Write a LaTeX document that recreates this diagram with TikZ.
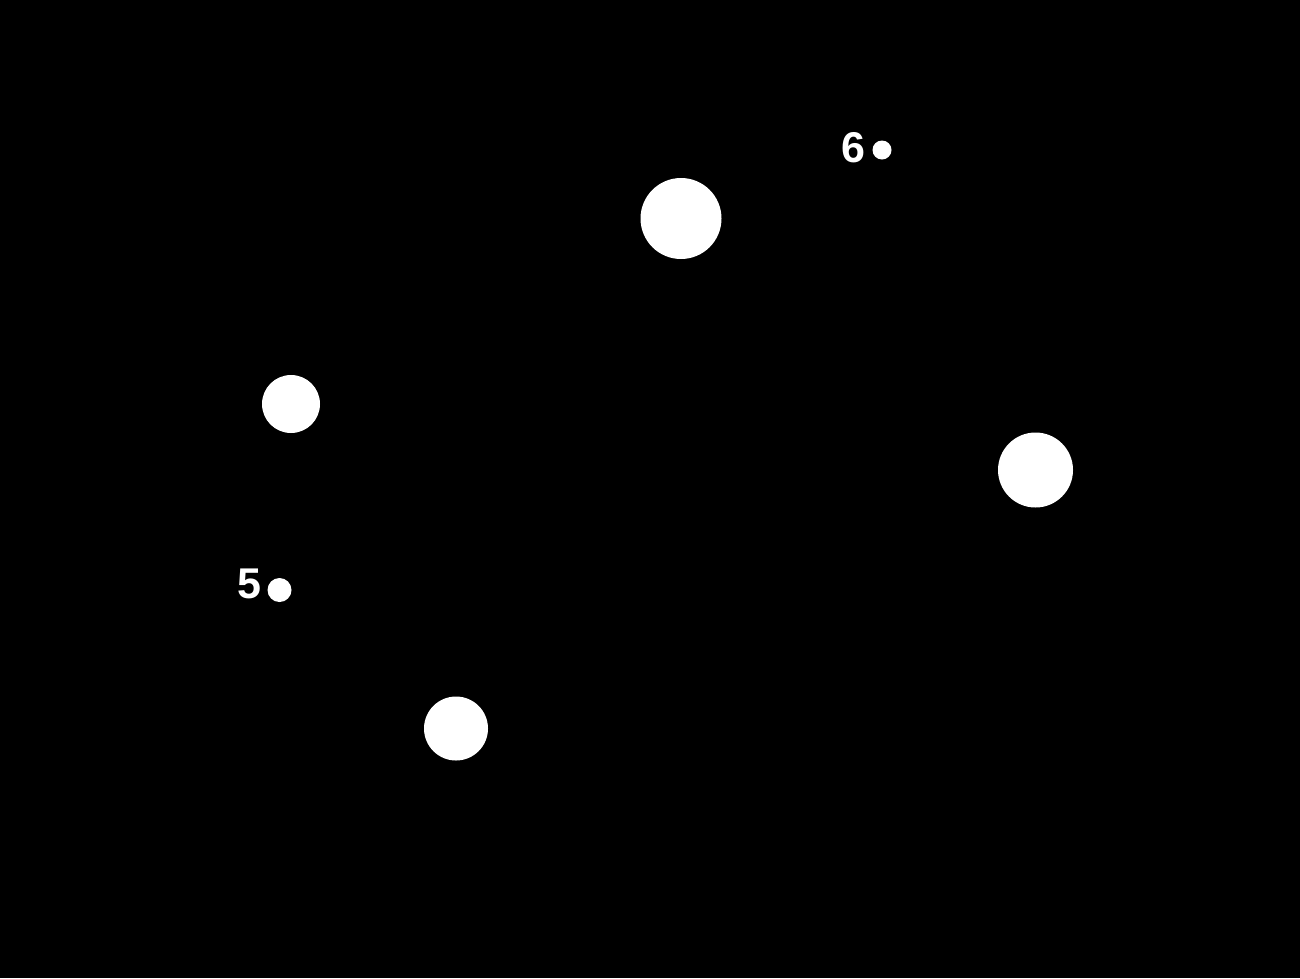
\documentclass[tikz,border=0pt]{standalone}
\usepackage{fontspec}
\setmainfont{Liberation Sans}
\usepackage{tikz}

\begin{document}
\begin{tikzpicture}[x=1pt,y=-1pt,inner sep=0pt,
	body/.style={circle,fill=white,draw=none},
	tag/.style={text=white,font=\fontsize{43}{43}\selectfont\bfseries}]

\fill[black] (0,0) rectangle (1300,978);
\useasboundingbox (0,0) rectangle (1300,978);

\node[body,minimum size=81pt] (p1) at (681,218.5) {};
\node[body,minimum size=58pt] (p2) at (291,404) {};
\node[body,minimum size=75pt] (p3) at (1035.5,470) {};
\node[body,minimum size=64pt] (p4) at (456,728.5) {};
\node[body,minimum size=19pt] (m6) at (882,150) {};
\node[body,minimum size=24pt] (m5) at (279.5,590) {};

\node[tag] (l6) at (853.5,148) {6};
\node[tag] (l5) at (249.5,584) {5};

\end{tikzpicture}
\end{document}
